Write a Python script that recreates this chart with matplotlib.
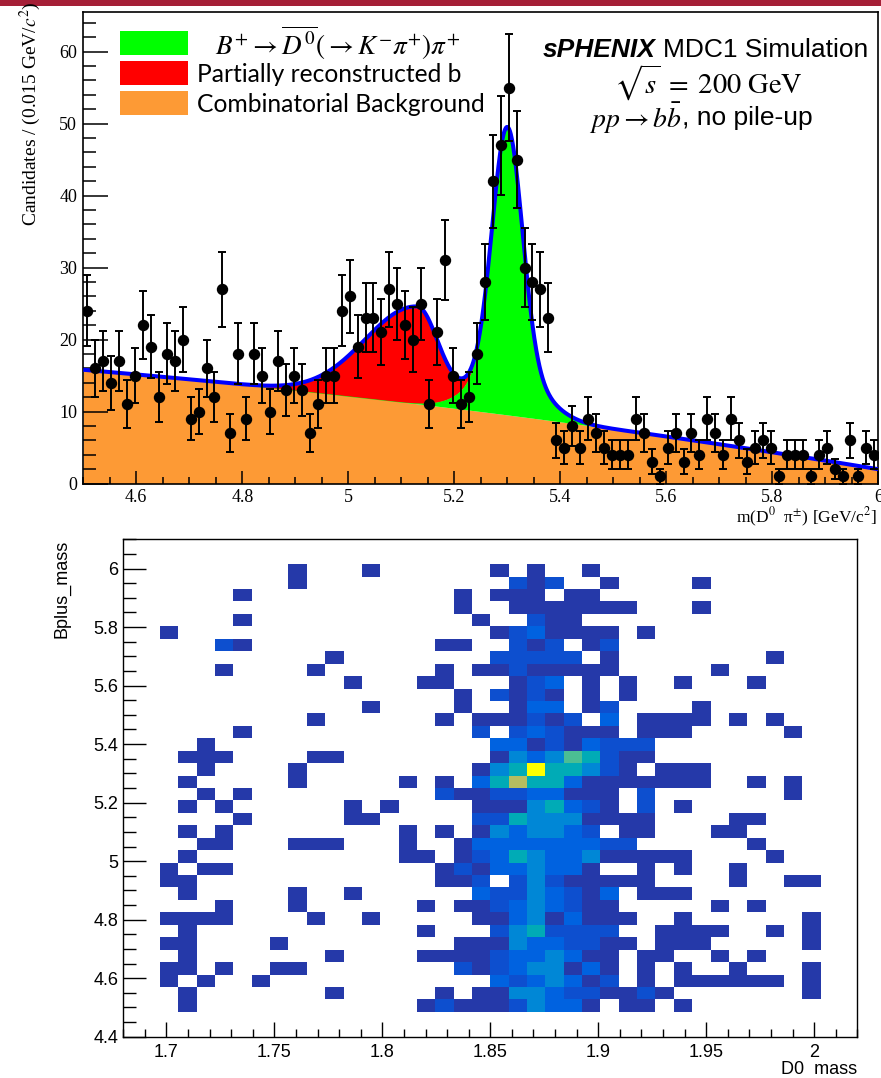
import numpy as np
import matplotlib
matplotlib.use("Agg")
import matplotlib.pyplot as plt
from matplotlib.colors import ListedColormap, BoundaryNorm
from matplotlib.patches import Rectangle
from matplotlib.ticker import MultipleLocator

plt.rcParams["mathtext.fontset"] = "stix"

W, H, DPI = 881, 1078, 100

# ---------------- B+ candidate mass spectrum ----------------
mass_lo, mass_hi, mass_bins = 4.5, 6.0, 100
candidates = [
    24, 16, 17, 14, 17, 11, 15, 22, 19, 12,
    18, 17, 20, 9, 10, 16, 12, 27, 7, 18,
    9, 18, 15, 10, 17, 13, 15, 13, 7, 11,
    15, 15, 24, 26, 19, 23, 23, 21, 27, 25,
    22, 20, 25, 11, 21, 31, 15, 11, 12, 18,
    28, 42, 47, 55, 45, 30, 28, 27, 23, 6,
    5, 8, 5, 9, 7, 5, 4, 4, 4, 9,
    7, 3, 1, 5, 7, 3, 7, 4, 9, 7,
    4, 9, 6, 3, 5, 6, 5, 1, 4, 4,
    4, 1, 4, 5, 2, 1, 6, 1, 5, 4,
]

# fit model parameters
bkg_coeffs = [15.8, -6.27, -1.96]          # quadratic in (m - 4.5)
sig_mean = 5.30
sig_core_amp, sig_core_width = 33.0, 0.028
sig_tail_amp, sig_tail_width = 7.0, 0.060
prc_peak, prc_height = 5.13, 13.4
prc_width_lo, prc_width_hi = 0.098, 0.040

legend_labels = [
    r"$B^{+}\rightarrow\overline{D^{0}}(\rightarrow K^{-}\pi^{+})\pi^{+}$",
    "Partially reconstructed b",
    "Combinatorial Background",
]
col_sig, col_prc, col_bkg, col_tot = "#00ff00", "#ff0000", "#fd9a35", "#0000ff"

# ---------------- D0 vs B+ mass occupancy ----------------
d0_lo, d0_hi, d0_bins = 1.68, 2.02, 40
bp_lo, bp_hi, bp_bins = 4.4, 6.1, 40
# one string per B+ mass row, highest row first; '.' = empty bin
occupancy_rows = [
    "........................................",
    "........................................",
    ".........1" "...1......" "1.1..1...." "..........",
    ".........1" ".........." ".212..1..." ".1........",
    "......1..." "........1." "111.11...." "..........",
    ".........." "........1." ".1111111.." ".1........",
    "......1..." ".........1" "..211....." "..........",
    "..1......." ".........." "1231111.1." "..........",
    ".....21..." ".......11." ".212.12..." "..........",
    ".........." ".1........" "22222.1..." ".....1....",
    ".....1...." "1......1.1" "1211111..." "..1.......",
    ".........." "..1...11.." ".123.1.1.." "1...1.....",
    ".........." "........1." "2121.1.1.." "..........",
    ".........." "...1....1." ".133.12..." ".1........",
    ".........." "1......1.1" "11212.3.11" "11.1.1....",
    "......1..." ".........2" ".232111.11" "1.....1...",
    "....1....." ".........." "331213222." "..........",
    "...111...." "11........" "143465211." "..........",
    "....1....1" ".........1" "45855421.1" "11........",
    "...1.....1" ".....1.1.3" "5755311111" "11..1.1...",
    "....1.1..." ".......211" "2233111.2." "......1...",
    "...1.1...." "..1.1....1" "1145321.2." "1.........",
    "......1..." "..11.....2" "254441111." "...11.....",
    "...1.1...." ".....1.1.1" "434432.11." "..11......",
    "....11...1" "11...1..13" "33333322.." "....1.....",
    "...1......" ".....11.12" "3543341111" "1....1....",
    "..1.11...." ".......121" "334331..1." "1..1......",
    "..11......" ".......112" ".24211111." "...1..11..",
    "...1.....1" "..1......3" "2243213.11" "1.........",
    ".....1...1" "......1.11" "2343211..." "..1.1.....",
    "..1111...." "1..1.....1" "13413111.." "1......1..",
    "...1......" "......1..." "2452222..1" "111..1.1..",
    "..11....1." "........11" "14332211.1" "11.....1..",
    "...1......" ".1....1111" "2334311.11" "..1.1.....",
    "..11.1..11" "........21" "2344131.1." "1..1...1..",
    "..1.1..1.." ".........." "3234312.1." "111111.1..",
    "...1......" ".1.....1.1" "1443221121" ".......1..",
    "...1......" "......1211" "124331.11." "1.........",
    "........................................",
    "........................................",
]
level_colors = ["#2539a9", "#0d4fcf", "#0062e0", "#0087d6",
                "#00abb6", "#4bbe93", "#b5bd60", "#ffff00"]


def fx(x):
    return x / W


def fy(y):
    return 1 - y / H


fig = plt.figure(figsize=(W / DPI, H / DPI), dpi=DPI)
fig.add_artist(Rectangle((0, fy(5.5)), 1, 5.5 / H, transform=fig.transFigure,
                         facecolor="#a51f37", edgecolor="none"))

# ================= upper panel: fitted mass spectrum =================
ax1 = fig.add_axes([fx(83.3), fy(483.5), (878.3 - 83.3) / W, (483.5 - 12) / H])
edges = np.linspace(mass_lo, mass_hi, mass_bins + 1)
centers = 0.5 * (edges[:-1] + edges[1:])
n = np.asarray(candidates, float)

m = np.linspace(mass_lo, mass_hi, 2000)
bkg = np.polyval(bkg_coeffs[::-1], m - mass_lo)
sig = (sig_core_amp * np.exp(-0.5 * ((m - sig_mean) / sig_core_width) ** 2)
       + sig_tail_amp * np.exp(-0.5 * ((m - sig_mean) / sig_tail_width) ** 2))
prc_w = np.where(m < prc_peak, prc_width_lo, prc_width_hi)
prc = prc_height * np.exp(-0.5 * ((m - prc_peak) / prc_w) ** 2)
total = bkg + sig + prc

ax1.fill_between(m, 0, bkg, color=col_bkg, lw=0, zorder=1)
ax1.fill_between(m, bkg, bkg + sig, color=col_sig, lw=0, zorder=1)
ax1.plot(m, bkg + sig, color=col_sig, lw=1.2, zorder=2)
ax1.fill_between(m, bkg + sig, total, color=col_prc, lw=0, zorder=2)
ax1.plot(m, total, color=col_tot, lw=2.9, zorder=3, solid_capstyle="butt")
ax1.errorbar(centers, n, yerr=np.sqrt(n), fmt="o", color="k", ms=7.2,
             elinewidth=1.4, capsize=2.6, capthick=1.4, zorder=4)

ax1.set_xlim(mass_lo, mass_hi)
ax1.set_ylim(0, 65.5)
ax1.set_xticks([4.6, 4.8, 5.0, 5.2, 5.4, 5.6, 5.8, 6.0])
ax1.set_xticklabels(["4.6", "4.8", "5", "5.2", "5.4", "5.6", "5.8", "6"])
ax1.xaxis.set_minor_locator(MultipleLocator(0.05))
ax1.set_yticks([0, 10, 20, 30, 40, 50, 60])
ax1.yaxis.set_minor_locator(MultipleLocator(2))
ax1.tick_params(axis="x", which="major", direction="in", length=9.4, width=1.1,
                pad=4, labelsize=13)
ax1.tick_params(axis="x", which="minor", direction="in", length=4.7, width=1.1)
ax1.tick_params(axis="y", which="major", direction="in", length=18, width=1.1,
                pad=4.5, labelsize=13)
ax1.tick_params(axis="y", which="minor", direction="in", length=9, width=1.1)
for lab in ax1.get_xticklabels() + ax1.get_yticklabels():
    lab.set_fontfamily("Liberation Serif")
for sp in ax1.spines.values():
    sp.set_linewidth(1.2)

fig.text(fx(30), fy(1), r"Candidates / (0.015 GeV/$c^{2}$)", rotation=90,
         ha="center", va="top", fontsize=14, family="Liberation Serif")
fig.text(fx(877), fy(517), r"m(D$^{0}$  π$^{\pm}$) [GeV/c$^{2}$]", ha="right",
         va="center", fontsize=12.5, family="Liberation Serif")

# legend
for i, (c, lab) in enumerate(zip([col_sig, col_prc, col_bkg], legend_labels)):
    top = 31 + 30 * i
    fig.add_artist(Rectangle((fx(120), fy(top + 24)), 68 / W, 24 / H,
                             transform=fig.transFigure, facecolor=c, edgecolor="none"))
    if i == 0:
        fig.text(fx(215), fy(top + 12), lab, ha="left", va="center", fontsize=19.5)
    else:
        fig.text(fx(197), fy(top + 13), lab, ha="left", va="center", fontsize=17.7,
                 family="Lato")

# experiment label
fig.text(fx(543), fy(50), "sPHENIX", ha="left", va="center", fontsize=19,
         family="Liberation Sans", fontweight="bold", fontstyle="italic")
fig.text(fx(868), fy(50), "MDC1 Simulation", ha="right", va="center", fontsize=19,
         family="Liberation Sans")
fig.text(fx(708), fy(83), r"$\sqrt{s}\;=\;200\ \mathrm{GeV}$", ha="center",
         va="center", fontsize=20.5)
fig.text(fx(682), fy(118), r"$pp\rightarrow b\bar{b}$", ha="right", va="center",
         fontsize=20)
fig.text(fx(682), fy(118), ", no pile-up", ha="left", va="center", fontsize=19,
         family="Liberation Sans")

# ================= lower panel: 2D occupancy =================
ax2 = fig.add_axes([fx(123.3), fy(1036.7), (857.3 - 123.3) / W, (1036.7 - 539.3) / H])
grid = np.array([[0 if ch == "." else int(ch) for ch in row] for row in occupancy_rows])[::-1]
xe = np.linspace(d0_lo, d0_hi, d0_bins + 1)
ye = np.linspace(bp_lo, bp_hi, bp_bins + 1)
cmap = ListedColormap(level_colors)
norm = BoundaryNorm(np.arange(0.5, len(level_colors) + 1.5), cmap.N)
ax2.pcolormesh(xe, ye, np.ma.masked_equal(grid, 0), cmap=cmap, norm=norm,
               edgecolors="none", antialiased=False)
ax2.set_xlim(d0_lo, d0_hi)
ax2.set_ylim(bp_lo, bp_hi)
ax2.set_xticks([1.7, 1.75, 1.8, 1.85, 1.9, 1.95, 2.0])
ax2.set_xticklabels(["1.7", "1.75", "1.8", "1.85", "1.9", "1.95", "2"])
ax2.xaxis.set_minor_locator(MultipleLocator(0.01))
ax2.set_yticks([4.4, 4.6, 4.8, 5.0, 5.2, 5.4, 5.6, 5.8, 6.0])
ax2.set_yticklabels(["4.4", "4.6", "4.8", "5", "5.2", "5.4", "5.6", "5.8", "6"])
ax2.yaxis.set_minor_locator(MultipleLocator(0.05))
ax2.tick_params(axis="x", which="major", direction="in", length=10.8, width=1.0,
                pad=5, labelsize=13)
ax2.tick_params(axis="x", which="minor", direction="in", length=5.8, width=1.0)
ax2.tick_params(axis="y", which="major", direction="in", length=16.5, width=1.0,
                pad=3.6, labelsize=13)
ax2.tick_params(axis="y", which="minor", direction="in", length=9, width=1.0)
for lab in ax2.get_xticklabels() + ax2.get_yticklabels():
    lab.set_fontfamily("Liberation Sans")
for sp in ax2.spines.values():
    sp.set_linewidth(1.0)

fig.text(fx(62), fy(540), "Bplus_mass", rotation=90, ha="center", va="top",
         fontsize=13, family="Liberation Sans")
fig.text(fx(857), fy(1077.5), "D0  mass", ha="right", va="bottom", fontsize=13,
         family="Liberation Sans")

fig.savefig("out.png", dpi=DPI)
